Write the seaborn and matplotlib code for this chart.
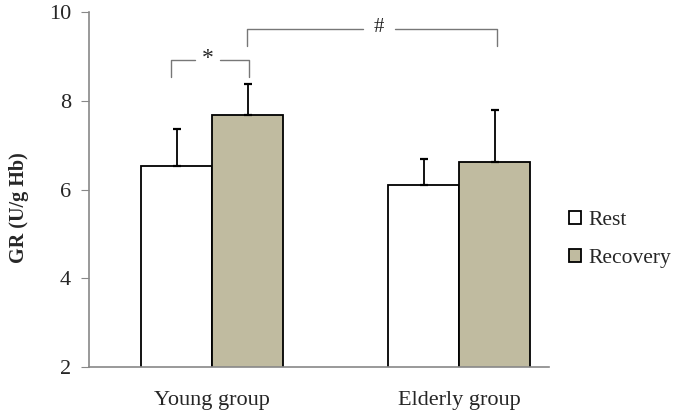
import numpy as np
import pandas as pd
import matplotlib
matplotlib.use("Agg")
import matplotlib.pyplot as plt
import seaborn as sns

# values
groups = ["Young group", "Elderly group"]
conditions = ["Rest", "Recovery"]
rest_mean = [6.52, 6.11]
rest_err = [0.85, 0.58]
recovery_mean = [7.69, 6.61]
recovery_err = [0.69, 1.18]

df = pd.DataFrame({
    "group": groups * 2,
    "cond": ["Rest"] * 2 + ["Recovery"] * 2,
    "GR": rest_mean + recovery_mean,
    "err": rest_err + recovery_err,
})

sns.set_style("white")
plt.rcParams['font.family'] = ['Liberation Serif', 'DejaVu Serif']

fig = plt.figure(figsize=(6.87, 4.13), dpi=100)
ax = fig.add_axes([0.1296, 0.111, 0.6694, 0.86])

width = 0.575
sns.barplot(data=df, x="group", y="GR", hue="cond", order=groups,
            hue_order=conditions, palette=["white", "#c5bf9b"],
            edgecolor="black", linewidth=1.3, width=width, errorbar=None,
            ax=ax)

# upper error bars only
off = width / 4
for i, g in enumerate(groups):
    for j, (m, e) in enumerate([(rest_mean[i], rest_err[i]), (recovery_mean[i], recovery_err[i])]):
        x = i + (-off if j == 0 else off)
        ax.errorbar(x, m, yerr=[[0], [e]], fmt="none", ecolor="black",
                    elinewidth=1.3, capsize=3, capthick=1.6)

ax.set_ylim(2, 10)
ax.set_xlim(-0.498, 1.364)
ax.set_yticks([2, 4, 6, 8, 10])
ax.tick_params(axis="y", direction="out", length=6, color="#888888", labelsize=16, left=True, pad=7)
ax.tick_params(axis="x", length=0, labelsize=16, pad=17)
ax.set_xlabel("")
ax.set_ylabel("GR (U/g Hb)", fontsize=14.5, fontweight="bold")
ax.yaxis.set_label_coords(-0.131, 0.45)
for s in ["top", "right"]:
    ax.spines[s].set_visible(False)
for s in ["left", "bottom"]:
    ax.spines[s].set_color("#888888")
    ax.spines[s].set_linewidth(1.2)

# significance brackets
gc = "#777777"
ax.plot([-0.166, -0.166, -0.069], [8.54, 8.92, 8.92], color=gc, lw=1)
ax.plot([0.032, 0.150, 0.150], [8.92, 8.92, 8.54], color=gc, lw=1)
ax.text(-0.018, 8.95, "*", ha="center", va="center", fontsize=17)

ax.plot([0.142, 0.142, 0.611], [9.24, 9.62, 9.62], color=gc, lw=1)
ax.plot([0.741, 1.154, 1.154], [9.62, 9.62, 9.24], color=gc, lw=1)
ax.text(0.676, 9.64, "#", ha="center", va="center", fontsize=15)

handles, labels = ax.get_legend_handles_labels()
ax.legend(handles, labels, loc="center left", bbox_to_anchor=(0.80, 0.42),
          bbox_transform=fig.transFigure, frameon=False, fontsize=15.5,
          handlelength=0.55, handleheight=0.55, handletextpad=0.35, labelspacing=0.85)

fig.savefig("out.png", dpi=100)
